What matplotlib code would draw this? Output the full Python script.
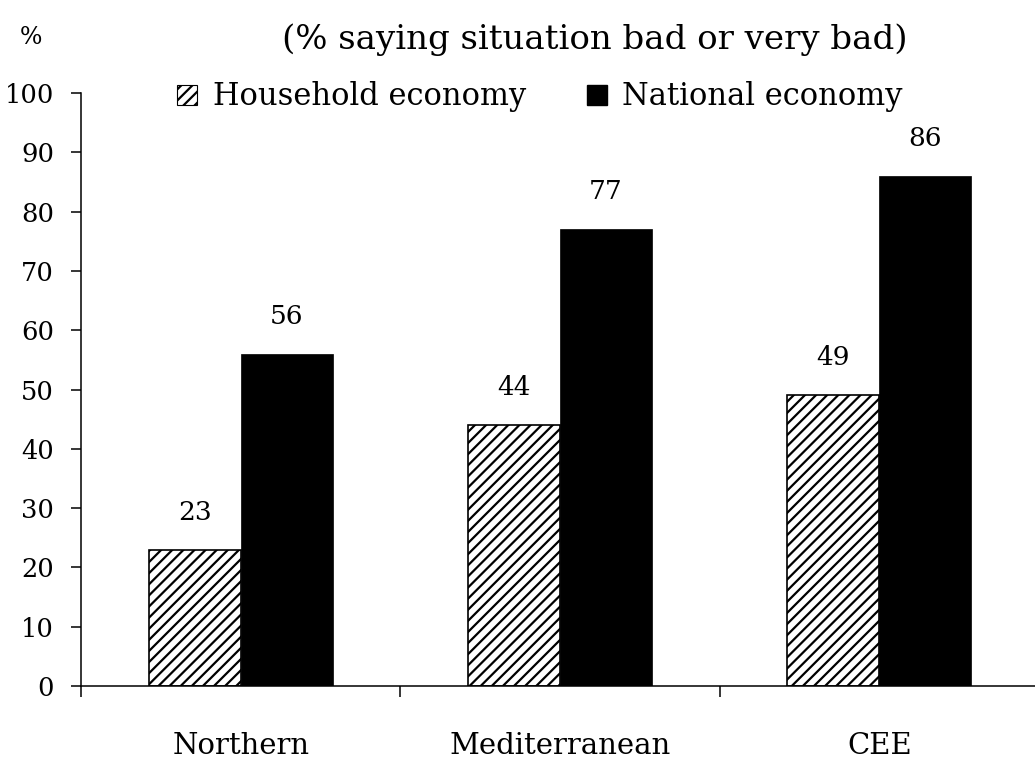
import numpy as np
import matplotlib.pyplot as plt
from matplotlib.patches import Patch

plt.rcParams['font.family'] = ['DejaVu Serif']
plt.rcParams['hatch.linewidth'] = 1.6
plt.rcParams['hatch.color'] = '#3a3a3a'

regions = ["Northern", "Mediterranean", "CEE"]
household = [23, 44, 49]
national = [56, 77, 86]

num_fs = 18.5
width = 0.288

fig = plt.figure(figsize=(10.35, 7.59), dpi=100)
ax = fig.add_axes([81 / 1035, 73 / 759, 958 / 1035, 593 / 759])

x = np.arange(len(regions))
hb = ax.bar(x - width / 2, household, width, color="white", edgecolor="black",
            hatch="///", linewidth=1.2)
nb = ax.bar(x + width / 2, national, width, color="black", edgecolor="black",
            linewidth=0.5)

# value labels above each bar
for bars, vals in [(hb, household), (nb, national)]:
    for b, v in zip(bars, vals):
        ax.annotate(str(v), (b.get_x() + b.get_width() / 2, v),
                    xytext=(0, 18), textcoords="offset points",
                    ha="center", va="bottom", fontsize=19)

ax.set_ylim(0, 100)
ax.set_xlim(-0.5, 2.5)
ax.set_yticks(range(0, 101, 10))
ax.tick_params(axis="y", direction="out", length=7.5, width=1.1, labelsize=num_fs, pad=12)
ax.set_xticks([-0.5, 0.5, 1.5, 2.5])
ax.set_xticklabels([])
ax.tick_params(axis="x", which="major", direction="out", length=8, width=1.1)
ax.set_xticks(x, minor=True)
ax.set_xticklabels(regions, minor=True, fontsize=21)
ax.tick_params(axis="x", which="minor", length=0, pad=33)

for s in ["top", "right"]:
    ax.spines[s].set_visible(False)
for s in ["left", "bottom"]:
    ax.spines[s].set_linewidth(1.1)

handles = [Patch(facecolor="white", edgecolor="black", hatch="///", linewidth=0.8),
           Patch(facecolor="black", edgecolor="black")]
fig.legend(handles, ["Household economy", "National economy"], ncol=2,
           loc="center", bbox_to_anchor=(540 / 1035, 1 - 97 / 759), frameon=False,
           fontsize=22, handlelength=0.65, handleheight=0.65, handletextpad=0.5,
           columnspacing=2.0)

fig.text(595 / 1035, 1 - 40 / 759, "(% saying situation bad or very bad)",
         ha="center", va="center", fontsize=24.5)
fig.text(31 / 1035, 1 - 38 / 759, "%", ha="center", va="center", fontsize=17)

fig.savefig("out.png", dpi=100)
